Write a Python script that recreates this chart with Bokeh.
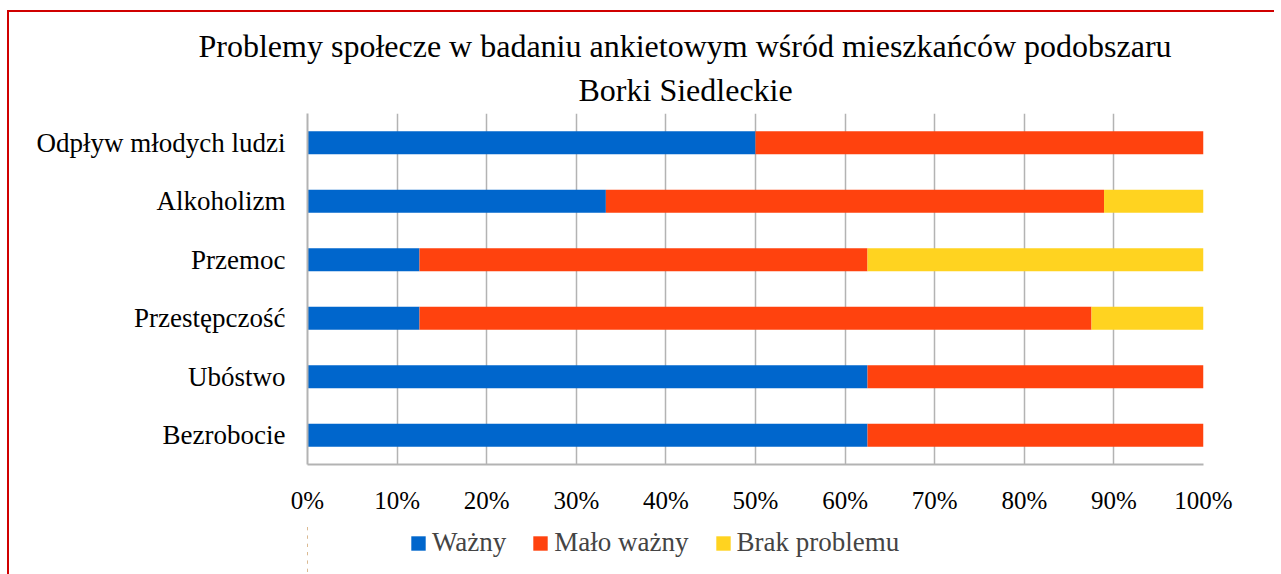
from bokeh.plotting import figure
from bokeh.layouts import column
from bokeh.models import FactorRange, Range1d, FixedTicker, PrintfTickFormatter, Legend, LegendItem, Title
from bokeh.embed import file_html
from bokeh.resources import INLINE

categories = ["Bezrobocie", "Ubóstwo", "Przestępczość", "Przemoc", "Alkoholizm", "Odpływ młodych ludzi"]
wazny = [62.5, 62.5, 12.5, 12.5, 33.3, 50.0]
malo_wazny = [37.5, 37.5, 75.0, 50.0, 55.6, 50.0]
brak = [0.0, 0.0, 12.5, 37.5, 11.1, 0.0]
series_names = ["Ważny", "Mało ważny", "Brak problemu"]
colors = ["#0066cc", "#ff420e", "#ffd320"]
x_ticks = [0, 10, 20, 30, 40, 50, 60, 70, 80, 90, 100]
title_lines = ["Problemy społecze w badaniu ankietowym wśród mieszkańców podobszaru", "Borki Siedleckie"]

FONT = "Liberation Serif"

p = figure(
    frame_width=896, frame_height=351,
    y_range=FactorRange(factors=categories, range_padding=0),
    x_range=Range1d(0, 100),
    output_backend="svg", toolbar_location=None,
    min_border_left=298, min_border_right=71, min_border_top=101, min_border_bottom=60,
)
p.title = None

# second line closest to the frame, first line above it
offsets = [-109, 271]
standoffs = [0, 12]
for line, off, so in reversed(list(zip(title_lines, offsets, standoffs))):
    t = Title(text=line, align="left", offset=off, text_font=FONT, text_font_size="32px",
              text_font_style="normal", text_color="#000000", standoff=so)
    p.add_layout(t, "above")

data = dict(cat=categories, w=wazny, m=malo_wazny, b=brak)
renderers = p.hbar_stack(["w", "m", "b"], y="cat", height=0.39, color=colors,
                         source=data, line_width=0)

p.outline_line_color = None
p.background_fill_color = "white"
p.border_fill_color = "white"

p.xgrid.ticker = FixedTicker(ticks=x_ticks)
p.xgrid.grid_line_color = "#b3b3b3"
p.xgrid.grid_line_width = 1.5
p.ygrid.grid_line_color = None

p.xaxis.ticker = FixedTicker(ticks=x_ticks)
p.xaxis.formatter = PrintfTickFormatter(format="%d%%")
p.xaxis.axis_line_color = "#b3b3b3"
p.xaxis.axis_line_width = 2
p.xaxis.major_tick_line_color = None
p.xaxis.minor_tick_line_color = None
p.xaxis.major_tick_out = 0
p.xaxis.major_label_standoff = 22
p.xaxis.major_label_text_font = FONT
p.xaxis.major_label_text_font_size = "25px"
p.xaxis.major_label_text_color = "#000000"

p.yaxis.axis_line_color = "#b3b3b3"
p.yaxis.axis_line_width = 2
p.yaxis.major_tick_line_color = None
p.yaxis.major_tick_out = 0
p.yaxis.major_label_standoff = 22
p.yaxis.major_label_text_font = FONT
p.yaxis.major_label_text_font_size = "27px"
p.yaxis.major_label_text_color = "#000000"

# legend strip below the chart (same series; its view range keeps the bars out of sight)
lg = figure(width=1265, height=50, output_backend="svg", toolbar_location=None,
            x_axis_type=None, y_axis_type=None,
            x_range=Range1d(200, 300), y_range=FactorRange(factors=categories),
            min_border=0)
lg.outline_line_color = None
lg.xgrid.grid_line_color = None
lg.ygrid.grid_line_color = None
lg.border_fill_color = "white"
lg_renderers = lg.hbar_stack(["w", "m", "b"], y="cat", height=0.39, color=colors,
                             source=data, line_width=0)
items = [LegendItem(label=n, renderers=[r]) for n, r in zip(series_names, lg_renderers)]
legend = Legend(items=items, orientation="horizontal", location=(102, 16),
                label_text_font=FONT, label_text_font_size="27px",
                glyph_width=18, glyph_height=18, label_standoff=5, spacing=25,
                padding=0, margin=0, border_line_color=None, background_fill_alpha=0)
lg.add_layout(legend, "center")

layout = column(p, lg, spacing=0,
                styles={"border-left": "2px solid #d00000", "border-top": "2px solid #d00000",
                        "margin-left": "7px", "margin-top": "10px"})

open("out.html", "w").write(file_html(layout, INLINE))
